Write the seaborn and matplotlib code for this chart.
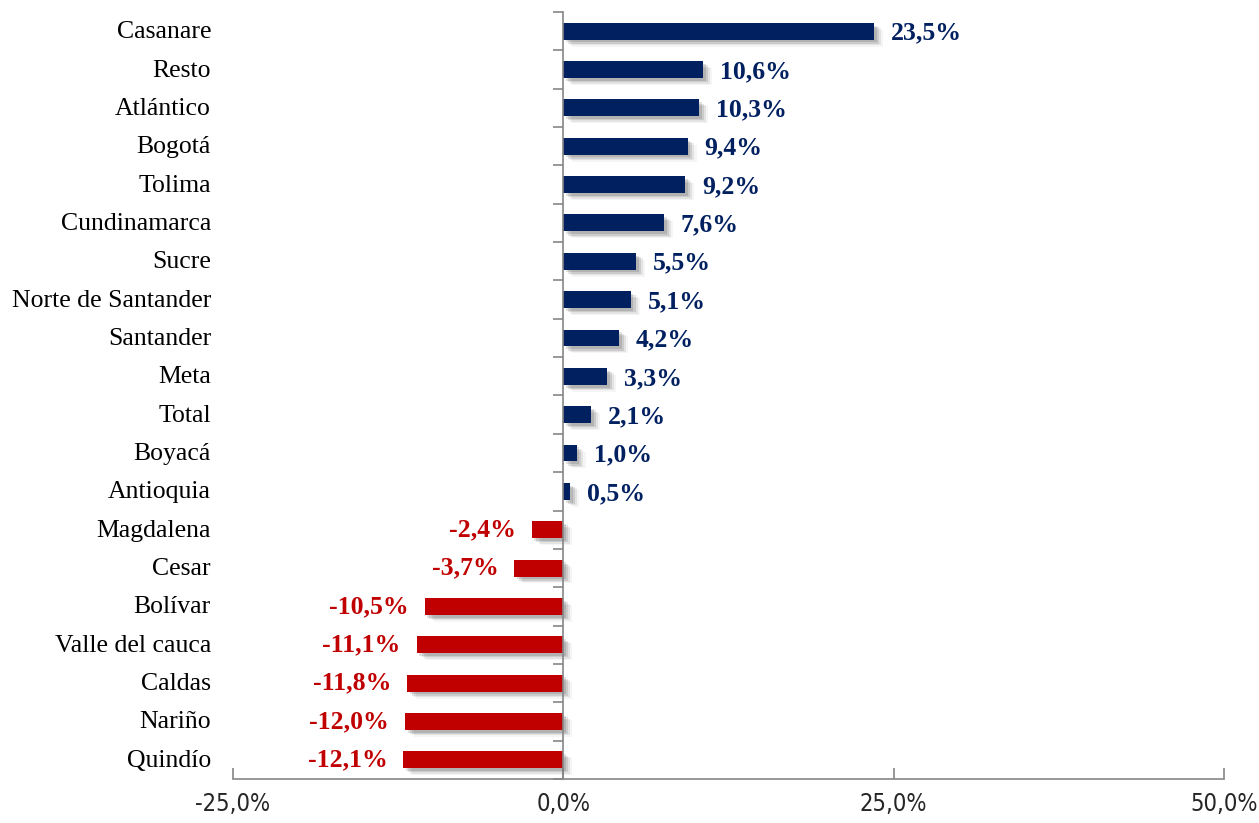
import matplotlib
matplotlib.use("Agg")
import matplotlib.pyplot as plt
import matplotlib.patheffects as pe
import matplotlib.transforms as mtransforms
import seaborn as sns
import numpy as np
import pandas as pd

# Variación anual por departamento (%)
departamentos = [
    "Casanare", "Resto", "Atlántico", "Bogotá", "Tolima", "Cundinamarca",
    "Sucre", "Norte de Santander", "Santander", "Meta", "Total", "Boyacá",
    "Antioquia", "Magdalena", "Cesar", "Bolívar ", "Valle del cauca",
    "Caldas", "Nariño", "Quindío",
]
variacion = [
    23.5, 10.6, 10.3, 9.4, 9.2, 7.6, 5.5, 5.1, 4.2, 3.3, 2.1, 1.0, 0.5,
    -2.4, -3.7, -10.5, -11.1, -11.8, -12.0, -12.1,
]
x_ticks = [-25, 0, 25, 50]

AZUL = "#002060"
ROJO = "#C00000"
GRIS = "#868686"

df = pd.DataFrame({"dep": departamentos, "var": variacion})
df["signo"] = np.where(df["var"] >= 0, "pos", "neg")

sns.set_theme(style="white")
plt.rcParams["font.family"] = ["Liberation Serif", "DejaVu Serif"]

fig = plt.figure(figsize=(12.59, 8.23), dpi=100)
ax = fig.add_axes([233 / 1259, 1 - 779 / 823, (1224 - 233) / 1259, (779 - 12) / 823])

sns.barplot(
    data=df, x="var", y="dep", hue="signo", orient="h",
    palette={"pos": AZUL, "neg": ROJO}, width=0.44, legend=False,
    saturation=1, ax=ax,
)

# Sombra difusa bajo cada barra
sombra = [
    pe.SimplePatchShadow(offset=(2, -2), shadow_rgbFace="#000000", alpha=0.12),
    pe.SimplePatchShadow(offset=(3.5, -3), shadow_rgbFace="#000000", alpha=0.10),
    pe.SimplePatchShadow(offset=(5, -4), shadow_rgbFace="#000000", alpha=0.07),
    pe.SimplePatchShadow(offset=(6.5, -5), shadow_rgbFace="#000000", alpha=0.04),
    pe.Normal(),
]
for p in ax.patches:
    p.set_path_effects(sombra)
    p.set_linewidth(0)

ax.set_xlim(-25, 50)
ax.set_ylim(len(departamentos) - 0.5, -0.5)
ax.set_xlabel("")
ax.set_ylabel("")

# Ejes
for s in ["top", "right"]:
    ax.spines[s].set_visible(False)
ax.spines["left"].set_position(("data", 0))
ax.spines["left"].set_color(GRIS)
ax.spines["bottom"].set_color(GRIS)
ax.spines["left"].set_linewidth(1.2)
ax.spines["bottom"].set_linewidth(1.2)

ax.set_xticks(x_ticks)
ax.set_xticklabels([f"{t:.1f}%".replace(".", ",") for t in x_ticks],
                   family="DejaVu Sans", fontstretch="condensed", fontsize=17)
ax.tick_params(axis="x", direction="in", length=8, width=1.2, color=GRIS, pad=9,
               bottom=True)

ax.set_yticks(np.arange(len(departamentos)))
ax.set_yticklabels([])
ax.set_yticks(np.arange(len(departamentos) + 1) - 0.5, minor=True)
ax.tick_params(axis="y", which="major", length=0)
ax.tick_params(axis="y", which="minor", direction="out", length=7, width=1.2,
               color=GRIS, left=True)

# Nombres de los departamentos
trans_nom = mtransforms.offset_copy(ax.get_yaxis_transform(), fig=fig, x=-22, y=-1,
                                    units="dots")
for i, nombre in enumerate(departamentos):
    ax.text(0, i, nombre.strip(), transform=trans_nom, ha="right", va="center",
            fontsize=18.5, color="#000000")

# Etiquetas de valor
for i, v in enumerate(variacion):
    texto = f"{v:.1f}%".replace(".", ",")
    if v >= 0:
        tr = mtransforms.offset_copy(ax.transData, fig=fig, x=17, y=-2, units="dots")
        ax.text(v, i, texto, transform=tr, ha="left", va="center",
                fontsize=18.5, fontweight="bold", color=AZUL)
    else:
        tr = mtransforms.offset_copy(ax.transData, fig=fig, x=-16, y=0, units="dots")
        ax.text(v, i, texto, transform=tr, ha="right", va="center",
                fontsize=18.5, fontweight="bold", color=ROJO)

fig.savefig("out.png", dpi=100)
